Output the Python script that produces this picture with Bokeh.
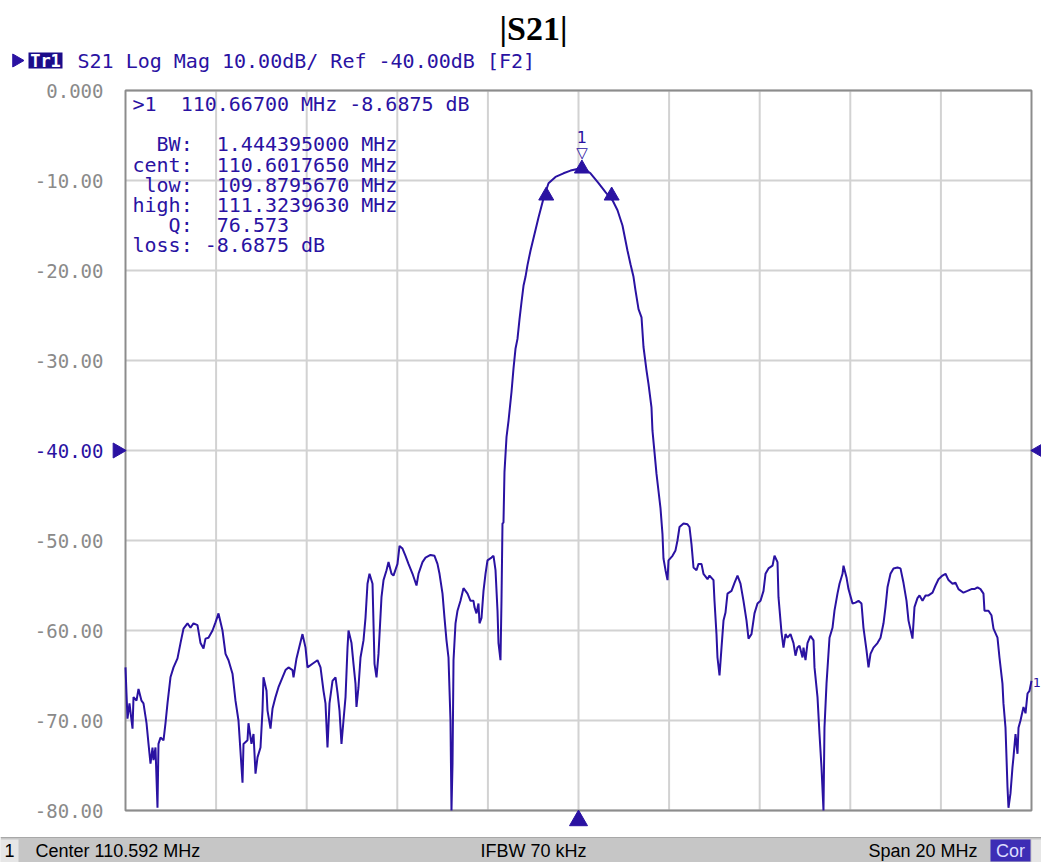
import math
from bokeh.plotting import figure
from bokeh.models import Range1d, ColumnDataSource
from bokeh.embed import file_html
from bokeh.resources import INLINE
from bokeh.core.properties import value

# ---------------- data ----------------
center_mhz = 110.592
span_mhz = 20.0
ref_db = -40.0
ifbw_text = "IFBW 70 kHz"
y_ticks = [0, -10, -20, -30, -40, -50, -60, -70, -80]
y_tick_labels = ["0.000", "-10.00", "-20.00", "-30.00", "-40.00",
                 "-50.00", "-60.00", "-70.00", "-80.00"]

freq_mhz = [
    100.592, 100.614, 100.636, 100.680, 100.747, 100.769, 100.835, 100.879, 100.945, 100.989,
    101.056, 101.100, 101.144, 101.188, 101.210, 101.254, 101.298, 101.320, 101.365, 101.431,
    101.475, 101.519, 101.585, 101.652, 101.740, 101.806, 101.872, 101.961, 102.027, 102.093,
    102.181, 102.248, 102.314, 102.358, 102.424, 102.513, 102.579, 102.645, 102.733, 102.800,
    102.866, 102.954, 103.020, 103.086, 103.175, 103.197, 103.285, 103.307, 103.373, 103.418,
    103.462, 103.506, 103.572, 103.616, 103.638, 103.705, 103.727, 103.793, 103.837, 103.903,
    103.969, 104.058, 104.124, 104.190, 104.279, 104.301, 104.367, 104.411, 104.499, 104.566,
    104.610, 104.720, 104.830, 104.897, 104.963, 105.007, 105.051, 105.095, 105.162, 105.228,
    105.272, 105.316, 105.360, 105.404, 105.449, 105.493, 105.515, 105.581, 105.625, 105.669,
    105.691, 105.735, 105.780, 105.846, 105.890, 105.934, 105.978, 106.045, 106.089, 106.133,
    106.177, 106.243, 106.288, 106.354, 106.398, 106.464, 106.508, 106.596, 106.641, 106.707,
    106.773, 106.839, 106.928, 107.016, 107.060, 107.148, 107.215, 107.325, 107.413, 107.479,
    107.524, 107.590, 107.634, 107.678, 107.722, 107.766, 107.788, 107.811, 107.833, 107.877,
    107.921, 107.987, 108.053, 108.098, 108.142, 108.208, 108.274, 108.296, 108.340, 108.384,
    108.407, 108.451, 108.495, 108.539, 108.583, 108.671, 108.716, 108.760, 108.804, 108.826,
    108.870, 108.892, 108.914, 108.936, 108.958, 109.003, 109.047, 109.113, 109.157, 109.201,
    109.245, 109.290, 109.334, 109.378, 109.422, 109.466, 109.532, 109.709, 109.819, 109.930,
    110.084, 110.261, 110.417, 110.592, 110.747, 110.857, 111.034, 111.188, 111.343, 111.453,
    111.563, 111.674, 111.740, 111.806, 111.850, 111.917, 111.983, 112.027, 112.093, 112.137,
    112.203, 112.225, 112.270, 112.314, 112.358, 112.402, 112.446, 112.468, 112.513, 112.557,
    112.579, 112.667, 112.733, 112.777, 112.822, 112.910, 112.998, 113.042, 113.086, 113.131,
    113.197, 113.241, 113.307, 113.351, 113.440, 113.484, 113.572, 113.594, 113.638, 113.660,
    113.705, 113.749, 113.793, 113.837, 113.881, 113.970, 114.036, 114.102, 114.168, 114.234,
    114.301, 114.345, 114.411, 114.477, 114.543, 114.610, 114.676, 114.720, 114.786, 114.875,
    114.919, 114.985, 115.007, 115.073, 115.117, 115.162, 115.206, 115.272, 115.338, 115.382,
    115.426, 115.471, 115.537, 115.559, 115.603, 115.647, 115.713, 115.780, 115.802, 115.868,
    115.912, 115.956, 116.000, 116.022, 116.067, 116.133, 116.199, 116.243, 116.309, 116.354,
    116.420, 116.442, 116.508, 116.552, 116.641, 116.707, 116.773, 116.839, 116.883, 116.950,
    116.994, 117.038, 117.104, 117.192, 117.259, 117.325, 117.369, 117.413, 117.479, 117.546,
    117.634, 117.700, 117.766, 117.833, 117.877, 117.943, 117.965, 118.009, 118.075, 118.120,
    118.186, 118.252, 118.318, 118.407, 118.473, 118.539, 118.627, 118.694, 118.760, 118.848,
    118.914, 118.980, 119.090, 119.179, 119.267, 119.333, 119.400, 119.466, 119.532, 119.554,
    119.642, 119.708, 119.753, 119.841, 119.885, 119.951, 119.973, 120.018, 120.062, 120.084,
    120.128, 120.172, 120.194, 120.239, 120.283, 120.305, 120.349, 120.415, 120.460, 120.504,
    120.548, 120.592,
]

s21_db = [
    -64.1, -67.0, -69.8, -68.1, -70.9, -67.4, -67.8, -66.5, -67.8, -68.1,
    -70.3, -72.6, -74.8, -73.0, -74.4, -73.0, -79.7, -72.6, -71.9, -72.2,
    -70.3, -68.1, -65.2, -64.1, -63.1, -61.4, -59.8, -59.2, -59.7, -59.2,
    -59.4, -61.4, -62.0, -60.9, -60.8, -60.0, -59.1, -58.1, -60.0, -62.6,
    -63.3, -64.8, -67.8, -70.0, -76.9, -72.6, -72.2, -70.3, -72.6, -71.5,
    -75.9, -74.1, -73.0, -68.9, -65.2, -66.7, -68.9, -70.9, -68.7, -67.4,
    -66.3, -65.2, -64.4, -64.1, -64.4, -65.2, -63.1, -62.2, -60.4, -61.9,
    -64.1, -63.7, -63.3, -64.1, -66.7, -68.1, -73.0, -68.1, -65.6, -65.2,
    -66.9, -68.9, -72.6, -70.0, -67.4, -61.9, -60.0, -61.4, -63.7, -65.9,
    -68.5, -66.3, -63.0, -61.1, -58.6, -54.8, -53.7, -54.8, -63.7, -65.2,
    -62.6, -56.3, -54.4, -53.3, -52.4, -53.7, -53.9, -52.6, -50.6, -50.9,
    -51.7, -52.6, -53.7, -55.0, -53.7, -52.4, -51.9, -51.6, -51.7, -52.6,
    -53.7, -55.9, -58.6, -61.1, -63.0, -70.0, -80.0, -74.8, -63.3, -59.2,
    -57.8, -56.7, -55.3, -55.6, -55.9, -56.7, -56.7, -57.4, -58.1, -57.0,
    -59.2, -58.6, -55.6, -53.7, -52.2, -51.9, -51.7, -53.3, -57.8, -61.4,
    -63.3, -56.7, -48.1, -48.0, -42.4, -38.5, -36.7, -33.5, -30.9, -28.7,
    -27.6, -25.4, -23.5, -21.7, -20.7, -19.4, -17.8, -14.1, -12.0, -10.3,
    -9.6, -9.2, -8.9, -8.7, -8.8, -9.2, -10.3, -11.3, -12.2, -13.3,
    -15.0, -17.8, -19.3, -20.7, -22.2, -24.3, -25.2, -28.5, -31.1, -32.6,
    -35.2, -37.8, -40.2, -42.6, -44.5, -46.4, -49.3, -52.0, -53.3, -54.4,
    -52.2, -51.7, -51.1, -50.0, -48.5, -48.1, -48.2, -48.5, -50.4, -53.0,
    -53.3, -52.6, -52.6, -53.7, -54.3, -53.9, -54.4, -56.7, -60.4, -63.0,
    -65.0, -61.9, -58.9, -58.0, -55.9, -55.6, -54.7, -53.9, -54.8, -56.7,
    -58.9, -60.9, -60.4, -58.1, -57.0, -56.7, -55.6, -53.7, -53.1, -52.8,
    -51.7, -52.4, -56.3, -60.2, -61.9, -60.4, -60.8, -60.4, -61.4, -62.8,
    -61.9, -61.7, -63.0, -61.9, -63.3, -61.4, -60.6, -61.1, -64.1, -67.4,
    -71.5, -75.2, -80.0, -70.8, -65.9, -60.8, -59.7, -57.8, -55.9, -54.8,
    -53.7, -52.8, -54.1, -55.4, -57.0, -56.9, -56.7, -57.0, -59.7, -62.2,
    -64.1, -62.6, -61.9, -61.4, -60.8, -59.2, -57.4, -55.2, -53.7, -53.1,
    -53.0, -53.1, -54.7, -56.7, -58.9, -60.4, -60.9, -57.4, -56.4, -56.1,
    -56.7, -56.1, -56.1, -55.8, -55.0, -54.3, -53.9, -53.7, -54.4, -54.8,
    -54.7, -55.4, -55.8, -55.6, -55.4, -55.4, -55.2, -55.4, -55.9, -57.8,
    -57.8, -58.3, -59.8, -60.8, -63.0, -65.9, -68.1, -70.8, -77.4, -79.7,
    -78.1, -75.2, -74.1, -71.5, -73.7, -70.8, -70.0, -68.5, -69.2, -67.0,
    -66.7, -65.6,
]

# markers: marker 1 and bandwidth (-3 dB) edges
marker_freq = [110.66700, 109.8795670, 111.3239630]
marker_db = [-8.6875, -11.6875, -11.6875]

readout_lines = [
    ">1  110.66700 MHz -8.6875 dB",
    "  BW:  1.444395000 MHz",
    "cent:  110.6017650 MHz",
    " low:  109.8795670 MHz",
    "high:  111.3239630 MHz",
    "   Q:  76.573",
    "loss: -8.6875 dB",
]
header_text = "S21 Log Mag 10.00dB/ Ref -40.00dB [F2]"
title_text = "|S21|"

# ---------------- geometry / style ----------------
W, H = 1041, 862
FL, FR, FT, FB = 125, 1031, 90, 810        # plot box in pixels
y_min, y_max = -80.0, 0.0
PX_MHZ = (FR - FL) / span_mhz
PX_DB = (FB - FT) / (y_max - y_min)
x0 = center_mhz - span_mhz / 2
x1 = center_mhz + span_mhz / 2


def X(px):
    return x0 + (px - FL) / PX_MHZ


def Y(py):
    return y_max - (py - FT) / PX_DB


BLUE = "#2a12a2"
GRID = "#d2d2d2"
MONO = "DejaVu Sans Mono"
SANS = "Liberation Sans"
NB = "\u00a0"

p = figure(width=W, height=H, x_range=Range1d(X(0), X(W)), y_range=Range1d(Y(H), Y(0)),
           x_axis_location=None, y_axis_location=None, min_border=0,
           outline_line_color=None, output_backend="svg", toolbar_location=None)
p.grid.visible = False
p.background_fill_color = "white"

# grid (10 divisions horizontally, 10 dB steps vertically)
x_div = [x0 + span_mhz / 10 * i for i in range(1, 10)]
p.segment(x0=x_div, y0=[y_min] * len(x_div), x1=x_div, y1=[y_max] * len(x_div),
          line_color=GRID, line_width=2)
p.segment(x0=[x0] * len(y_ticks), y0=y_ticks, x1=[x1] * len(y_ticks), y1=y_ticks,
          line_color=GRID, line_width=2)
p.quad(left=[x0], right=[x1], top=[y_max], bottom=[y_min], fill_color=None,
       line_color="#8c8c8c", line_width=2)

# y tick labels
tick_src = ColumnDataSource(dict(
    x=[x0] * len(y_ticks), y=y_ticks, t=y_tick_labels,
    c=[BLUE if t == ref_db else "#8a8a8a" for t in y_ticks]))
p.text(x="x", y="y", text="t", text_color="c", source=tick_src, x_offset=-22,
       text_font=value(MONO), text_font_size="19px", text_align="right",
       text_baseline="middle")

# reference level pointers and centre pointer
p.scatter(x=[X(117)], y=[ref_db], marker="triangle", angle=-math.pi / 2, size=15,
          fill_color=BLUE, line_color=BLUE)
p.scatter(x=[X(1039)], y=[ref_db], marker="triangle", angle=math.pi / 2, size=15,
          fill_color=BLUE, line_color=BLUE)
p.scatter(x=[center_mhz], y=[Y(820)], marker="triangle", size=18,
          fill_color=BLUE, line_color=BLUE)

# trace
p.line(freq_mhz, s21_db, line_color=BLUE, line_width=2)
p.text(x=[X(W)], y=[s21_db[-1]], text=["1"], x_offset=-1, y_offset=2, text_font=value(MONO),
       text_font_size="13px", text_align="right", text_baseline="middle", text_color=BLUE)

# markers
p.scatter(marker_freq, marker_db, marker="triangle", size=15, fill_color=BLUE, line_color=BLUE)
ind = ColumnDataSource(dict(x=[marker_freq[0]] * 2, y=[marker_db[0]] * 2,
                            t=["1", "\u25BD"], yo=[-32, -16], fs=["16px", "15px"]))
p.text(x="x", y="y", text="t", y_offset="yo", source=ind, text_font=value("DejaVu Sans"),
       text_font_size="fs", text_align="center", text_baseline="middle", text_color=BLUE)

# marker readout
ro = ColumnDataSource(dict(x=[x0] * len(readout_lines),
                           y=[Y(py) for py in [103, 143, 164, 184, 204, 224, 244]],
                           t=[s.replace(" ", NB) for s in readout_lines]))
p.text(x="x", y="y", text="t", x_offset=7, source=ro, text_font=value(MONO),
       text_font_size="20px", text_align="left", text_baseline="middle", text_color=BLUE)

# title and channel header
p.text(x=[X(533)], y=[Y(28)], text=[title_text], text_font=value("Liberation Serif"),
       text_font_style="bold", text_font_size="34px", text_align="center",
       text_baseline="middle", text_color="black")
p.scatter(x=[X(16)], y=[Y(60)], marker="triangle", angle=-math.pi / 2, size=13,
          fill_color=BLUE, line_color=BLUE)
p.quad(left=[X(28)], right=[X(62)], top=[Y(52)], bottom=[Y(68)], fill_color="#1c0c8a",
       line_color=None)
p.text(x=[X(45)], y=[Y(60)], text=["Tr1"], text_font=value(MONO), text_font_style="bold",
       text_font_size="17px", text_align="center", text_baseline="middle", text_color="white")
p.text(x=[X(77)], y=[Y(60)], text=[header_text.replace(" ", NB)], text_font=value(MONO),
       text_font_size="20px", text_align="left", text_baseline="middle", text_color=BLUE)

# status bar
p.quad(left=[X(0)], right=[X(W)], top=[Y(837)], bottom=[Y(H)], fill_color="#c6c6c6",
       line_color=None)
p.segment(x0=[X(0)], y0=[Y(837)], x1=[X(W)], y1=[Y(837)], line_color="#a8a8a8", line_width=1)
p.quad(left=[X(0)], right=[X(18)], top=[Y(839)], bottom=[Y(H)], fill_color="#e6e6e6",
       line_color=None)
p.quad(left=[X(990)], right=[X(1030)], top=[Y(839)], bottom=[Y(861)], fill_color="#3d2db5",
       line_color=None)
p.quad(left=[X(1031)], right=[X(W)], top=[Y(839)], bottom=[Y(H)], fill_color="#e6e6e6",
       line_color=None)
bar = ColumnDataSource(dict(
    x=[X(4), X(35), X(480), X(868)], y=[Y(850)] * 4,
    t=["1", f"Center {center_mhz:.3f} MHz", ifbw_text, f"Span {span_mhz:g} MHz"]))
p.text(x="x", y="y", text="t", source=bar, text_font=value(SANS), text_font_size="18px",
       text_align="left", text_baseline="middle", text_color="black")
p.text(x=[X(1010)], y=[Y(850)], text=["Cor"], text_font=value(SANS), text_font_size="18px",
       text_align="center", text_baseline="middle", text_color="#dcdcff")

open("out.html", "w").write(file_html(p, INLINE))
